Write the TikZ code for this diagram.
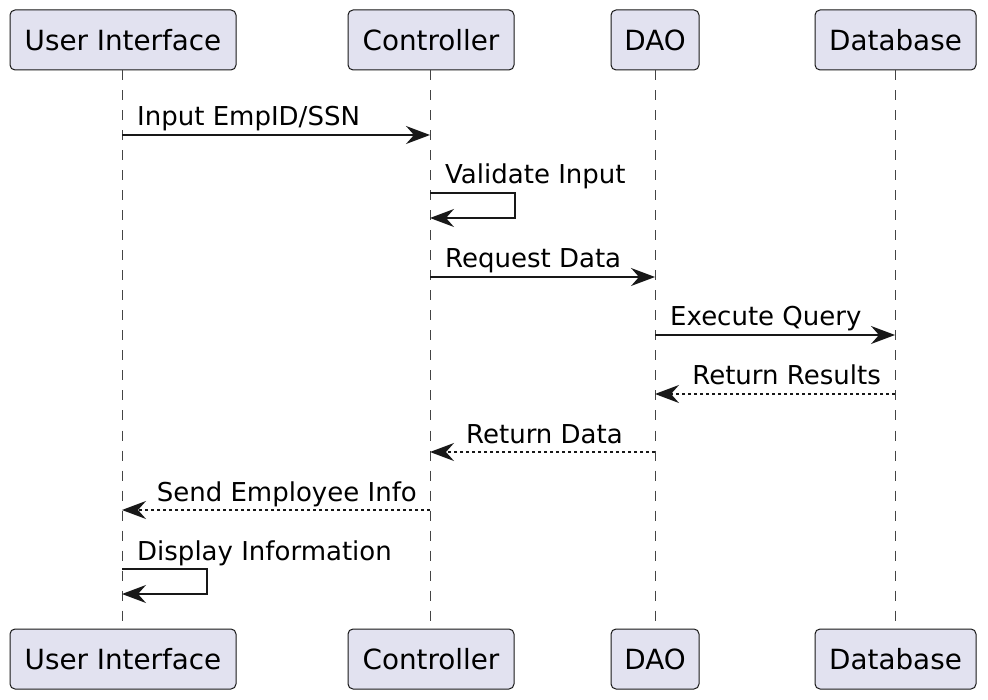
\documentclass[tikz,border=0pt]{standalone}
\usepackage{fontspec}
\setmainfont{DejaVu Sans}
\usetikzlibrary{arrows.meta}
\definecolor{partfill}{HTML}{E2E2F0}
\definecolor{partline}{HTML}{181818}
\definecolor{lifeline}{HTML}{444444}
\tikzset{
  part/.style={draw=partline, fill=partfill, line width=1pt, rounded corners=5pt,
    minimum height=60pt, inner sep=0pt, font=\fontsize{27.8}{32}\selectfont, text=black},
  life/.style={draw=lifeline, line width=1pt, dash pattern=on 10pt off 10pt},
  msg/.style={draw=partline, line width=1.6pt, -{Stealth[length=24pt,width=18pt,inset=8pt]}},
  ret/.style={msg, dash pattern=on 3pt off 3pt},
  lbl/.style={inner sep=0pt, font=\fontsize{26}{30}\selectfont, text=black},
}
\begin{document}
\begin{tikzpicture}[x=1pt,y=-1pt]
\useasboundingbox (0,0) rectangle (988,700);
% participants top
\node[part, minimum width=226pt] (uiT) at (123,40) {User Interface};
\node[part, minimum width=166pt] (ctT) at (431,40) {Controller};
\node[part, minimum width=88pt] (daT) at (655,40) {DAO};
\node[part, minimum width=161pt] (dbT) at (895.5,40) {Database};
% participants bottom
\node[part, minimum width=226pt] (uiB) at (123,659) {User Interface};
\node[part, minimum width=166pt] (ctB) at (431,659) {Controller};
\node[part, minimum width=88pt] (daB) at (655,659) {DAO};
\node[part, minimum width=161pt] (dbB) at (895.5,659) {Database};
% lifelines
\coordinate (ui) at (122,0); \coordinate (ct) at (430,0);
\coordinate (da) at (655,0); \coordinate (db) at (895,0);
\draw[life] (uiT.south -| ui) -- (uiB.north -| ui);
\draw[life] (ctT.south -| ct) -- (ctB.north -| ct);
\draw[life] (daT.south -| da) -- (daB.north -| da);
\draw[life] (dbT.south -| db) -- (dbB.north -| db);
% messages
\coordinate (m1) at (0,135);
\draw[msg] (ui |- m1) -- (ct |- m1);
\node[lbl, anchor=base west] (l1) at (137,126) {Input EmpID/SSN};

\coordinate (m2) at (0,193); \coordinate (m2b) at (0,218); \coordinate (m2x) at (515,0);
\draw[msg] (ct |- m2) -- (m2x |- m2) -- (m2x |- m2b) -- (ct |- m2b);
\node[lbl, anchor=base west] (l2) at (445,184) {Validate Input};

\coordinate (m3) at (0,277);
\draw[msg] (ct |- m3) -- (da |- m3);
\node[lbl, anchor=base west] (l3) at (445,268) {Request Data};

\coordinate (m4) at (0,335);
\draw[msg] (da |- m4) -- (db |- m4);
\node[lbl, anchor=base west] (l4) at (670,326) {Execute Query};

\coordinate (m5) at (0,394);
\draw[ret] (db |- m5) -- (da |- m5);
\node[lbl, anchor=base east] (l5) at (881,385) {Return Results};

\coordinate (m6) at (0,452);
\draw[ret] (da |- m6) -- (ct |- m6);
\node[lbl, anchor=base east] (l6) at (623,443) {Return Data};

\coordinate (m7) at (0,510);
\draw[ret] (ct |- m7) -- (ui |- m7);
\node[lbl, anchor=base east] (l7) at (417,501) {Send Employee Info};

\coordinate (m8) at (0,569); \coordinate (m8b) at (0,594); \coordinate (m8x) at (207,0);
\draw[msg] (ui |- m8) -- (m8x |- m8) -- (m8x |- m8b) -- (ui |- m8b);
\node[lbl, anchor=base west] (l8) at (137,560) {Display Information};
\end{tikzpicture}
\end{document}
